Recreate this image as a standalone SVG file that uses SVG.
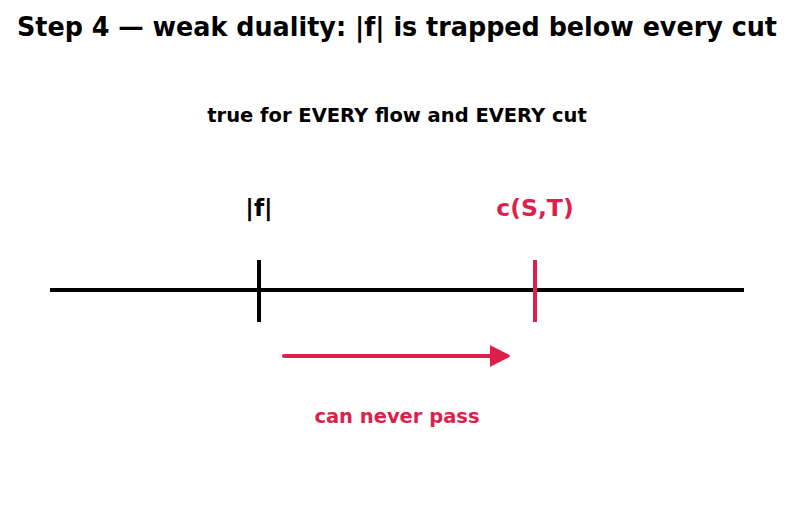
<svg xmlns="http://www.w3.org/2000/svg" width="793" height="512" viewBox="0 0 793 512">
<style>
text{font-family:"DejaVu Sans",sans-serif;font-weight:bold;text-anchor:middle}
.red{fill:#dc1f4b}
.blk{fill:#000}
</style>
<defs>
<marker id="ah" markerWidth="6" markerHeight="6" refX="2.6" refY="3" orient="auto" markerUnits="strokeWidth">
<path d="M0,0.6 L4.7,3 L0,5.4 Z" fill="#dc1f4b" stroke="#dc1f4b" stroke-width="0.7" stroke-linejoin="round"/>
</marker>
</defs>
<rect width="793" height="512" fill="#fff"/>
<text x="397" y="36" font-size="26.5" textLength="760" lengthAdjust="spacingAndGlyphs">Step 4 — weak duality: |f| is trapped below every cut</text>
<text x="397" y="122" font-size="19.5">true for EVERY flow and EVERY cut</text>
<g id="axis">
<line x1="50" y1="290" x2="744" y2="290" stroke="#000" stroke-width="4"/>
</g>
<g id="flow">
<line x1="259" y1="260" x2="259" y2="322" stroke="#000" stroke-width="4"/>
<text x="259" y="216" font-size="23.5">|f|</text>
</g>
<g id="cut">
<line x1="535" y1="260" x2="535" y2="322" stroke="#dc1f4b" stroke-width="4"/>
<text x="535" y="216" font-size="23.5" class="red">c(S,T)</text>
</g>
<g id="connectors">
<line x1="284" y1="356" x2="500" y2="356" stroke="#dc1f4b" stroke-width="4" stroke-linecap="round" marker-end="url(#ah)"/>
</g>
<text x="397" y="423" font-size="19.5" class="red">can never pass</text>
</svg>
